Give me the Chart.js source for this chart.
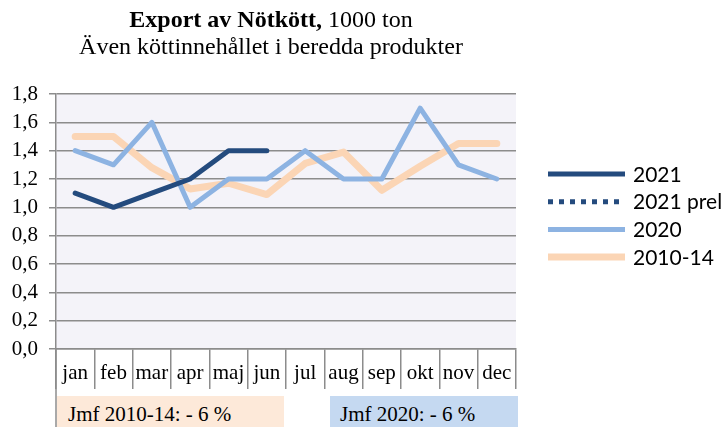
<!DOCTYPE html>
<html>
<head>
<meta charset="utf-8">
<title>Export av Nötkött</title>
<style>
body { margin:0; background:#fff; }
#wrap { position:relative; width:726px; height:427px; }
#title {
    position:absolute; left:0; top:6px; width:542px;
    text-align:center; font-family:"Liberation Serif", serif;
    font-size:24px; line-height:27px; color:#000;
}
.jmf {
    position:absolute; top:396px; height:31px; box-sizing:border-box;
    font-family:"Liberation Serif", serif; font-size:21px; line-height:31px;
    padding-left:11px; padding-top:3px; color:#000;
}
#jmf1 { left:57px; width:227px; background:#FDE9D9; }
#jmf2 { left:330px; width:188px; background:#C5D9F1; padding-left:10px; }
</style>
</head>
<body>
<div id="wrap">
    <canvas id="myChart" width="726" height="427"></canvas>
    <div id="title"><b>Export av Nötkött,</b> 1000 ton<br>Även köttinnehållet i beredda produkter</div>
    <div class="jmf" id="jmf1">Jmf 2010-14: - 6 %</div>
    <div class="jmf" id="jmf2">Jmf 2020: - 6 %</div>
</div>
<script src="https://cdn.jsdelivr.net/npm/chart.js@4/dist/chart.umd.min.js"></script>
<script type="text/javascript">

    var months = ['jan', 'feb', 'mar', 'apr', 'maj', 'jun', 'jul', 'aug', 'sep', 'okt', 'nov', 'dec'];
    var seriesNames = ['2021', '2021 prel', '2020', '2010-14'];
    var y2021 = [1.1, 1.0, 1.1, 1.2, 1.4, 1.4, null, null, null, null, null, null];
    var y2021prel = [null, null, null, null, null, null, null, null, null, null, null, null];
    var y2020 = [1.4, 1.3, 1.6, 1.0, 1.2, 1.2, 1.4, 1.2, 1.2, 1.7, 1.3, 1.2];
    var y201014 = [1.5, 1.5, 1.28, 1.13, 1.17, 1.09, 1.31, 1.39, 1.12, 1.29, 1.45, 1.45];
    var yMin = 0, yMax = 1.8, yStep = 0.2;

    var gridColor = '#8c8c8c';
    var serif = '"Liberation Serif", "Times New Roman", serif';

    // plot background + left line down through the labels
    var plotBg = {
        id: 'plotBg',
        beforeDraw: function(chart) {
            var a = chart.chartArea, ctx = chart.ctx;
            ctx.save();
            ctx.fillStyle = '#F4F3F9';
            ctx.fillRect(a.left, a.top, a.right - a.left, a.bottom - a.top);
            ctx.restore();
        },
        afterDraw: function(chart) {
            var a = chart.chartArea, ctx = chart.ctx;
            ctx.save();
            ctx.strokeStyle = gridColor;
            ctx.lineWidth = 1.5;
            ctx.beginPath();
            ctx.moveTo(a.left, a.bottom);
            ctx.lineTo(a.left, chart.height);
            ctx.stroke();
            ctx.restore();
        }
    };

    // legend on the right, drawn by hand
    var sideLegend = {
        id: 'sideLegend',
        afterDraw: function(chart) {
            var ctx = chart.ctx;
            ctx.save();
            chart.data.datasets.forEach(function(ds, i) {
                var y = 174 + i * 27.7;
                ctx.strokeStyle = ds.borderColor;
                ctx.lineWidth = ds.borderWidth;
                ctx.setLineDash(ds.borderDash || []);
                ctx.lineCap = 'butt';
                ctx.beginPath();
                ctx.moveTo(548, y);
                ctx.lineTo(625, y);
                ctx.stroke();
                ctx.setLineDash([]);
                ctx.fillStyle = '#000';
                ctx.font = '21px Lato';
                ctx.textBaseline = 'middle';
                ctx.fillText(ds.label, 633, y + 1);
            });
            ctx.restore();
        }
    };

    var config = {
        type: 'line',
        data: {
            labels: months,
            datasets: [{
                label: seriesNames[0],
                data: y2021,
                borderColor: '#244B7E',
                borderWidth: 5
            }, {
                label: seriesNames[1],
                data: y2021prel,
                borderColor: '#244B7E',
                borderWidth: 5,
                borderDash: [5, 6]
            }, {
                label: seriesNames[2],
                data: y2020,
                borderColor: '#8DB3E2',
                borderWidth: 5
            }, {
                label: seriesNames[3],
                data: y201014,
                borderColor: '#FBD5B5',
                borderWidth: 7
            }]
        },
        options: {
            responsive: false,
            animation: false,
            events: [],
            elements: {
                line: { tension: 0, borderCapStyle: 'round', borderJoinStyle: 'round', fill: false },
                point: { radius: 0, hoverRadius: 0 }
            },
            layout: { padding: { top: 94, right: 210, left: 0, bottom: 0 } },
            plugins: {
                legend: { display: false },
                title: { display: false },
                tooltip: { enabled: false }
            },
            scales: {
                x: {
                    offset: true,
                    grid: {
                        offset: true,
                        drawOnChartArea: false,
                        drawTicks: true,
                        tickLength: 40,
                        color: gridColor,
                        lineWidth: 1.5
                    },
                    border: { display: true, color: gridColor, width: 1.5 },
                    ticks: {
                        color: '#000',
                        font: { family: serif, size: 21 },
                        padding: -28,
                        maxRotation: 0,
                        autoSkip: false
                    },
                    afterFit: function(s) { s.height = 78; }
                },
                y: {
                    min: yMin,
                    max: yMax,
                    grid: {
                        color: gridColor,
                        lineWidth: 1.5,
                        tickLength: 7
                    },
                    border: { display: true, color: gridColor, width: 1.5 },
                    ticks: {
                        stepSize: yStep,
                        color: '#000',
                        font: { family: serif, size: 21 },
                        padding: 11,
                        callback: function(v) { return v.toFixed(1).replace('.', ','); }
                    },
                    afterFit: function(s) { s.width = 56; }
                }
            }
        },
        plugins: [plotBg, sideLegend]
    };

    window.onload = function() {
        var ctx = document.getElementById('myChart').getContext('2d');
        window.myLine = new Chart(ctx, config);
    };

</script>
</body>
</html>
